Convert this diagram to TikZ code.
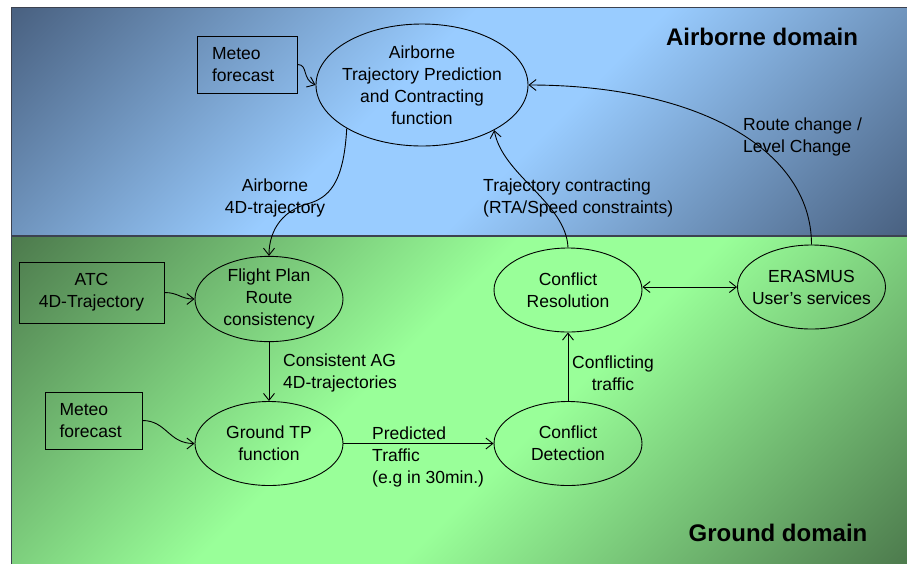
\documentclass[tikz,border=0pt]{standalone}
\usepackage{fontspec}
\setmainfont{Liberation Sans}
\usetikzlibrary{arrows.meta,shapes.geometric}

\definecolor{skydark}{RGB}{74,98,130}
\definecolor{skylight}{RGB}{153,204,255}
\definecolor{grassdark}{RGB}{78,124,78}
\definecolor{grasslight}{RGB}{153,255,153}
\definecolor{framegray}{RGB}{60,66,80}

% diagonal bands: dark corners, light strip along the anti-diagonal
\pgfdeclarehorizontalshading{skyband}{100bp}{color(0bp)=(skydark); color(15bp)=(skydark); color(44bp)=(skylight); color(56bp)=(skylight); color(85bp)=(skydark); color(100bp)=(skydark)}
\pgfdeclarehorizontalshading{grassband}{100bp}{color(0bp)=(grassdark); color(15bp)=(grassdark); color(44bp)=(grasslight); color(56bp)=(grasslight); color(85bp)=(grassdark); color(100bp)=(grassdark)}

\tikzset{
  every node/.style={font=\fontsize{17.5}{22}\selectfont, text=black},
  proc/.style={draw, ellipse, line width=0.9pt, inner sep=0pt,
               minimum width=148pt, minimum height=84pt, align=center},
  inbox/.style={draw, rectangle, line width=0.9pt, align=left,
                minimum height=57pt, inner ysep=0pt},
  note/.style={inner sep=0pt},
  barb/.tip={Straight Barb[length=7pt,width=11pt,line width=0.9pt]},
  flow/.style={line width=0.9pt, -barb},
  biflow/.style={line width=0.9pt, barb-barb},
  domtitle/.style={font=\fontsize{24}{28}\selectfont\bfseries, inner sep=0pt},
}

\begin{document}
\begin{tikzpicture}[x=1pt,y=-1pt]
\useasboundingbox (0,0) rectangle (907,563);

% background panels
\shade[shading=skyband, shading angle=-45] (11,7) rectangle (909,236);
\shade[shading=grassband, shading angle=-45] (11,236) rectangle (909,565);
\draw[framegray, line width=1pt] (11,565) -- (11,7) -- (909,7);
\draw[framegray, line width=1.4pt] (11,236) -- (909,236);

% domain titles
\node[domtitle] (airtitle) at (762,37) {Airborne domain};
\node[domtitle] (gndtitle) at (778,533) {Ground domain};

% airborne side
\node[proc, minimum width=212pt, minimum height=122pt, inner xsep=-6pt] (air) at (422,85)
  {Airborne\\Trajectory Prediction\\and Contracting\\function};
\node[inbox, text width=70pt, inner xsep=15pt] (metA) at (247,64.5) {Meteo\\forecast};

% ground side
\node[proc] (fpc) at (269,299) {Flight Plan\\Route\\consistency};
\node[proc] (gtp) at (269,443.5) {Ground TP\\function};
\node[proc] (cd) at (568,443.5) {Conflict\\Detection};
\node[proc] (cr) at (568,290) {Conflict\\Resolution};
\node[proc, inner xsep=-8pt] (era) at (811.5,287) {ERASMUS\\User’s services};
\node[inbox, align=center, minimum width=145pt, minimum height=61pt] (atc) at (91.5,292.5)
  {ATC\\4D-Trajectory};
\node[inbox, text width=68pt, inner xsep=14.5pt] (metB) at (93.5,420.5) {Meteo\\forecast};

% connectors
\draw[flow] (metA.east) .. controls +(11,0) and +(-14,-6) .. (air.west);
\draw[flow] (air.210) .. controls +(-3,55) and +(22,-6) .. (307,204)
                      .. controls +(-22,6) and +(0,-28) .. (fpc.north);
\draw[flow] (atc.east) .. controls +(14,0) and +(-14,0) .. (fpc.west);
\draw[flow] (metB.east) .. controls +(24,0) and +(-26,0) .. (gtp.west);
\draw[flow] (fpc.south) -- (gtp.north);
\draw[flow] (gtp.east) -- (cd.west);
\draw[flow] (cd.north) -- (cr.south);
\draw[biflow] (era.west -| cr.east) -- (era.west);
\draw[flow] (cr.north) .. controls +(-2,-45) and +(8,45) .. (air.-32);
\draw[flow] (era.north) .. controls +(0,-96) and +(167,0) .. (air.east);

% connector labels
\node[note, align=center] (lblair) at (275,198) {Airborne\\4D-trajectory};
\node[note, align=left, anchor=west] (lblcon) at (483,197.5)
  {Trajectory contracting\\(RTA/Speed constraints)};
\node[note, align=left, anchor=west] (lblroute) at (743,137) {Route change /\\Level Change};
\node[note, align=left, anchor=west] (lblag) at (283,373) {Consistent AG\\4D-trajectories};
\node[note, align=left, anchor=west] (lblpred) at (372,457) {Predicted\\Traffic\\(e.g in 30min.)};
\node[note, align=center] (lblconf) at (613,373) {Conflicting\\traffic};
\end{tikzpicture}
\end{document}
